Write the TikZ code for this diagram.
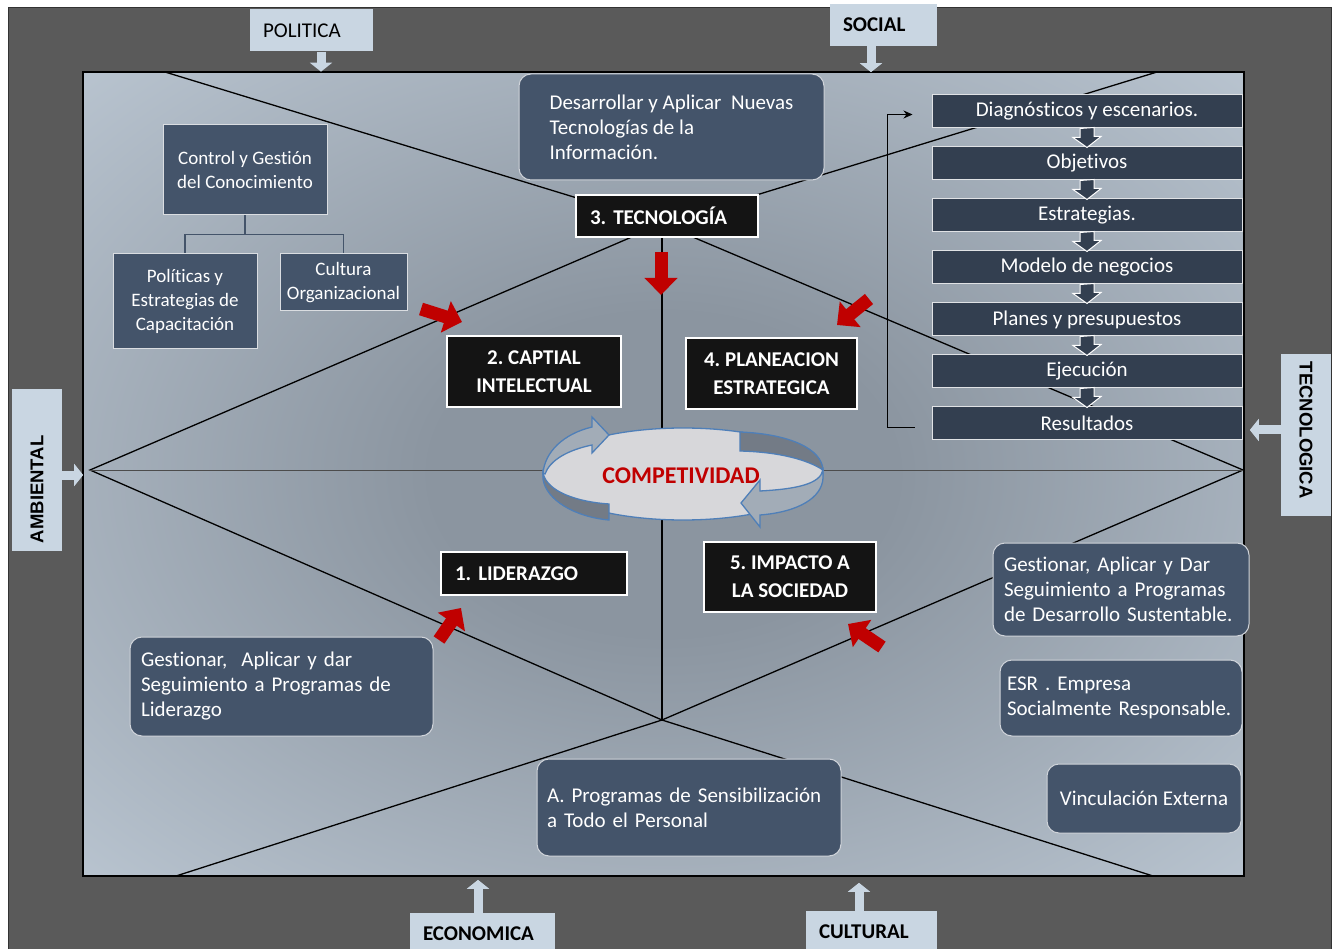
\documentclass[tikz,border=0pt]{standalone}
\usepackage{fontspec}
\setmainfont{Carlito}[Ligatures=NoCommon]
\newfontfamily\sidefont{Liberation Sans}
\usetikzlibrary{arrows.meta}
\frenchspacing

\definecolor{framegray}{HTML}{5A5A5A}
\definecolor{labfill}{HTML}{C9D6E2}
\definecolor{slate}{HTML}{44546A}
\definecolor{slatedark}{HTML}{333F50}
\definecolor{panellight}{HTML}{D2DEEA}
\definecolor{paneldark}{HTML}{8B95A0}
\definecolor{redarr}{HTML}{C00000}
\definecolor{ringblue}{HTML}{4F7FB8}
\definecolor{ringface}{HTML}{D7D7DA}
\definecolor{ringband}{HTML}{737B86}
\definecolor{ringshaft}{HTML}{A2ACB7}

\pgfdeclareradialshading{panelshade}{\pgfpoint{0bp}{0bp}}{color(0bp)=(paneldark); color(10bp)=(paneldark); color(50bp)=(panellight)}

\begin{document}
\begin{tikzpicture}[x=1pt, y=-1pt,
    lab/.style={fill=labfill, font=\fontsize{21}{25}\selectfont, align=left, inner xsep=13pt, minimum height=42pt},
    sidearrow/.style={draw=labfill, line width=9pt, -{Triangle[width=22pt,length=9pt]}},
    treebox/.style={fill=slate, draw=white!80!slate, line width=1pt, text=white, font=\fontsize{19}{24}\selectfont, align=center, inner sep=0pt},
    blackbox/.style={fill=black!92, draw=white, line width=1.3pt, text=white, font=\bfseries\fontsize{21}{28}\selectfont, align=center, inner sep=0pt},
    roundbox/.style={fill=slate, draw=white!75!slate, line width=1pt, rounded corners=12pt, text=white, font=\fontsize{21}{25}\selectfont, align=left},
    flowbox/.style={fill=slatedark, draw=white!85!slatedark, line width=1pt, text=white, font=\fontsize{21}{25}\selectfont, minimum width=310pt, minimum height=33pt, inner sep=0pt},
    flowarrow/.style={fill=slatedark, draw=white, line width=1pt},
    redarrow/.style={draw=redarr, line width=13pt, -{Triangle[width=32pt,length=17pt]}},
    frameline/.style={black, line width=1.3pt},
    ring/.style={draw=ringblue, line width=1.3pt}]
  \useasboundingbox (0,0) rectangle (1339,949);
  \fill[white] (0,0) rectangle (1339,949);
  % outer frame and shaded panel
  \filldraw[fill=framegray, draw=black!80, line width=1pt] (8,8) rectangle (1331,960);
  \node[shade, shading=panelshade, draw=black, line width=1.5pt, minimum width=1161pt, minimum height=804pt, inner sep=0pt] (panel) at (663.5,474) {};

  \coordinate (L) at (90,470);
  \coordinate (R) at (1243,470);
  \coordinate (T) at (662,224);
  \coordinate (B) at (662,720);
  \coordinate (TL) at (165,72);
  \coordinate (TR) at (1157,72);
  \coordinate (BL) at (176,876);
  \coordinate (BR) at (1153,876);
  \draw[frameline] (TL) -- (T) -- (TR);
  \draw[frameline] (L) -- (T) -- (R) -- (B) -- cycle;
  \draw[frameline] (T) -- (B);
  \draw[frameline, line width=1pt, black!70] (L) -- (R);
  \draw[frameline] (BL) -- (B) -- (BR);

  % environment labels
  \node[lab, text width=97pt] (politica) at (311.5,30.5) {POLITICA};
  \node[lab, text width=81pt, font=\bfseries\fontsize{21}{25}\selectfont] (social) at (883.5,25) {SOCIAL};
  \node[lab, text width=119pt, font=\bfseries\fontsize{21}{25}\selectfont] (economica) at (482.5,934) {ECONOMICA};
  \node[lab, text width=105pt, font=\bfseries\fontsize{21}{25}\selectfont] (cultural) at (871.5,932) {CULTURAL};
  \node[lab, rotate=90, text width=146pt, inner xsep=8pt, minimum height=50pt, font=\sidefont\bfseries\fontsize{18.5}{22}\selectfont] (ambiental) at (37,470) {AMBIENTAL};
  \node[lab, rotate=-90, text width=146pt, inner xsep=8pt, minimum height=50pt, font=\sidefont\bfseries\fontsize{18.5}{22}\selectfont] (tecnologica) at (1306,435) {TECNOLOGICA};
  \draw[sidearrow] ([xshift=9.5pt]politica.south) -- ++(0,20);
  \draw[sidearrow] ([xshift=-12.5pt]social.south) -- ++(0,26);
  \draw[sidearrow] ([xshift=-4.5pt]economica.north) -- ++(0,-33);
  \draw[sidearrow] ([xshift=-12.5pt]cultural.north) -- ++(0,-28);
  \draw[sidearrow] ([yshift=-5pt]ambiental.south) -- ++(21,0);
  \draw[sidearrow] ([yshift=5pt]tecnologica.south) -- ++(-31,0);

  % knowledge tree
  \node[treebox, minimum width=164pt, minimum height=90pt] (ctrl) at (245,170) {Control y Gestión\\del Conocimiento};
  \node[treebox, minimum width=144pt, minimum height=95pt] (polcap) at (185,301.5) {Políticas y\\Estrategias de\\Capacitación};
  \node[treebox, minimum width=127pt, minimum height=57pt] (cultura) at (343.5,282.5) {Cultura\\Organizacional};
  \draw[slate, line width=1.5pt] (ctrl.south) -- ++(0,19) -| (polcap.north);
  \draw[slate, line width=1.5pt] (ctrl.south) -- ++(0,19) -| (cultura.north);

  % the five areas
  \node[roundbox, minimum width=305pt, minimum height=106pt] (desarrollar) at (671.5,127) {Desarrollar y Aplicar\ \ Nuevas\\Tecnologías de la\\Información.};
  \node[blackbox, text width=154pt, inner xsep=14pt, align=left, minimum height=42pt] (tec) at (667,216) {3. TECNOLOGÍA};
  \node[blackbox, minimum width=174pt, minimum height=71pt] (capital) at (534,371.5) {2. CAPTIAL\\INTELECTUAL};
  \node[blackbox, minimum width=171pt, minimum height=71pt] (planea) at (771.5,373.5) {4. PLANEACION\\ESTRATEGICA};
  \node[blackbox, text width=158pt, inner xsep=14pt, align=left, minimum height=43pt] (lider) at (534,573.5) {1. LIDERAZGO};
  \node[blackbox, minimum width=172pt, minimum height=70pt] (impacto) at (790,577) {5. IMPACTO A\\LA SOCIEDAD};

  \node[roundbox, text width=281pt, inner xsep=11pt, minimum height=99pt] (glider) at (281.5,686.5) {Gestionar,\ \ Aplicar y dar\\Seguimiento a Programas de\\Liderazgo};
  \node[roundbox, text width=284pt, inner xsep=10pt, minimum height=97pt] (sensib) at (689,807.5) {A. Programas de Sensibilización\\a Todo el Personal};
  \node[roundbox, text width=234pt, inner xsep=11pt, minimum height=93pt] (gsust) at (1121,589.5) {Gestionar, Aplicar y Dar\\Seguimiento a Programas\\de Desarrollo Sustentable.};
  \node[roundbox, text width=228pt, inner xsep=7pt, minimum height=76pt] (esr) at (1121,698) {ESR . Empresa\\Socialmente Responsable.};
  \node[roundbox, align=center, minimum width=194pt, minimum height=69pt] (vinc) at (1144,798.5) {Vinculación Externa};

  % planning flow
  \foreach \t [count=\i] in {Diagnósticos y escenarios., Objetivos, Estrategias., Modelo de negocios, Planes y presupuestos, Ejecución, Resultados}
    \node[flowbox] (f\i) at (1087,{59.5+52*\i}) {\t};
  \foreach \i [evaluate=\i as \j using int(\i+1)] in {1,...,6}
    \filldraw[flowarrow] ([xshift=-7pt]f\i.south) -- ++(0,9) -- ++(-7,0) -- ([yshift=-1pt]f\j.north) -- ++(14,-11) -- ++(-7,0) -- ++(0,-9) -- cycle;
  \draw[black, line width=1pt, -{Stealth[length=9pt,width=8pt]}] ([xshift=-17pt,yshift=-4pt]f7.west) -- ++(-27,0) |- ([xshift=-19pt,yshift=-3pt]f1.west);

  % competitividad ring
  \filldraw[ring, fill=ringface] (683,474) ellipse [x radius=140, y radius=46];
  \filldraw[ring, fill=ringband] (543,473) .. controls (547,492) and (578,502) .. (609,504) -- (609,520) .. controls (575,517) and (546,500) .. (543,479) -- cycle;
  \filldraw[ring, fill=ringband] (740,432) .. controls (790,434) and (822,449) .. (823,470) .. controls (808,460) and (780,452) .. (740,451) -- cycle;
  \filldraw[ring, fill=ringshaft] (543,473) .. controls (545,452) and (563,434) .. (592,427) -- (592,417) -- (609,435) -- (592,453) -- (592,445) .. controls (568,450) and (550,460) .. (545,474) -- cycle;
  \filldraw[ring, fill=ringshaft] (823,470) .. controls (820,484) and (797,489) .. (760,491) -- (760,480) -- (741,503) -- (760,527) -- (760,515) .. controls (798,512) and (822,498) .. (823,478) -- cycle;
  \node[text=redarr, font=\bfseries\fontsize{24}{28}\selectfont] (comp) at (681,476) {COMPETIVIDAD};

  % red pointers
  \coordinate (capS) at (421,309);  \coordinate (capE) at (462,322);
  \coordinate (tecS) at (661,252);  \coordinate (tecE) at (661,295);
  \coordinate (plaS) at (869,299);  \coordinate (plaE) at (837,325);
  \coordinate (lidS) at (439,640);  \coordinate (lidE) at (461,608);
  \coordinate (impS) at (882,647);  \coordinate (impE) at (848,624);
  \draw[redarrow] (capS) -- (capE);
  \draw[redarrow] (tecS) -- (tecE);
  \draw[redarrow] (plaS) -- (plaE);
  \draw[redarrow] (lidS) -- (lidE);
  \draw[redarrow] (impS) -- (impE);
\end{tikzpicture}
\end{document}
